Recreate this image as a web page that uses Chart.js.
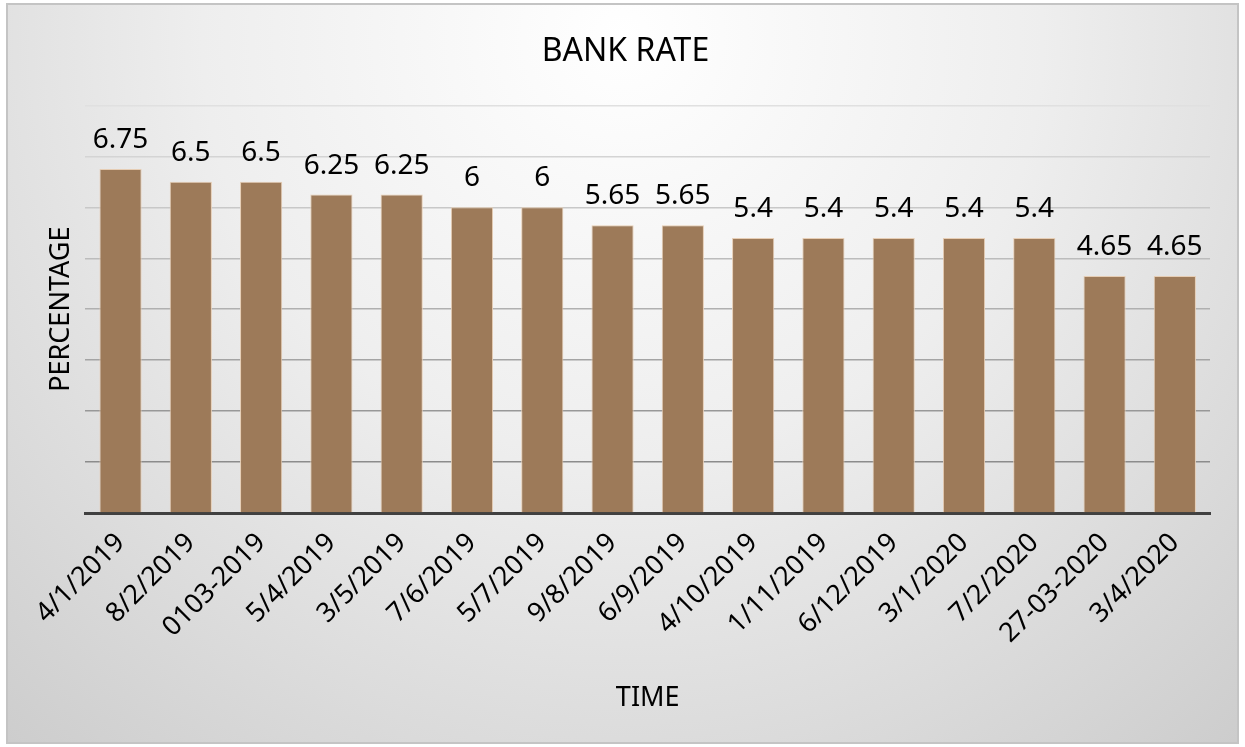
<!doctype html>
<html lang="en">
<head>
  <meta charset="utf-8">
  <script src="https://cdn.jsdelivr.net/npm/chart.js"></script>
  <style>
    html, body { margin: 0; padding: 0; background: #ffffff; }
    #box { width: 1245px; height: 747px; }
  </style>
  <title>Bank Rate</title>
</head>
<body>
  <div id="box"><canvas id="rateChart"></canvas></div>
  <script>
    // datos
    const fechas = ["4/1/2019", "8/2/2019", "0103-2019", "5/4/2019", "3/5/2019", "7/6/2019",
      "5/7/2019", "9/8/2019", "6/9/2019", "4/10/2019", "1/11/2019", "6/12/2019",
      "3/1/2020", "7/2/2020", "27-03-2020", "3/4/2020"];
    const tasas = [6.75, 6.5, 6.5, 6.25, 6.25, 6, 6, 5.65, 5.65, 5.4, 5.4, 5.4, 5.4, 5.4, 4.65, 4.65];

    const fuente = "'Noto Sans', 'Open Sans', sans-serif";

    // fondo con degradado y marco
    const fondo = {
      id: "fondo",
      beforeDraw(chart) {
        const ctx = chart.ctx;
        const w = chart.width, h = chart.height;
        ctx.save();
        const g = ctx.createRadialGradient(w * 0.5, h * 0.05, 0, w * 0.5, h * 0.05, w * 0.75);
        g.addColorStop(0, "#ffffff");
        g.addColorStop(0.45, "#eeeeee");
        g.addColorStop(1, "#cdcdcd");
        ctx.fillStyle = g;
        ctx.fillRect(7, 4, w - 14, h - 8);
        ctx.strokeStyle = "#c4c4c4";
        ctx.lineWidth = 2;
        ctx.strokeRect(7, 4, w - 14, h - 8);
        ctx.restore();
      }
    };

    // etiquetas encima de las barras
    const etiquetas = {
      id: "etiquetas",
      afterDatasetsDraw(chart) {
        const ctx = chart.ctx;
        const meta = chart.getDatasetMeta(0);
        ctx.save();
        ctx.font = "28px " + fuente;
        ctx.fillStyle = "#000000";
        ctx.textAlign = "center";
        ctx.textBaseline = "alphabetic";
        meta.data.forEach((bar, i) => {
          ctx.fillText(String(tasas[i]), bar.x, bar.y - 21);
        });
        ctx.restore();
      }
    };

    new Chart(document.getElementById("rateChart"), {
      type: "bar",
      data: {
        labels: fechas,
        datasets: [{
          data: tasas,
          backgroundColor: "#9d7a59",
          borderColor: "#e6cdb4",
          borderWidth: 1,
          categoryPercentage: 1,
          barPercentage: 0.6
        }]
      },
      options: {
        responsive: true,
        maintainAspectRatio: false,
        animation: false,
        layout: { padding: { left: 41, right: 35, top: 18, bottom: 28 } },
        plugins: {
          legend: { display: false },
          tooltip: { enabled: false },
          title: {
            display: true,
            text: "BANK RATE",
            color: "#000000",
            font: { family: fuente, size: 32, weight: "normal" },
            padding: { top: 15, bottom: 34 }
          }
        },
        scales: {
          x: {
            grid: { display: false },
            border: { color: "#404040", width: 3 },
            ticks: {
              color: "#000000",
              font: { family: fuente, size: 27 },
              minRotation: 45,
              maxRotation: 45,
              autoSkip: false,
              padding: 6
            },
            title: {
              display: true,
              text: "TIME",
              color: "#000000",
              font: { family: fuente, size: 27 },
              padding: { top: 27, bottom: 4 }
            }
          },
          y: {
            min: 0,
            max: 8,
            ticks: { display: false, stepSize: 1 },
            border: { display: false },
            grid: {
              drawTicks: false,
              lineWidth: 1.5,
              color: c => {
                const v = c.tick ? c.tick.value : 0;
                const k = Math.round(0x8c + (v - 1) * 12);
                const hx = Math.min(k, 0xe6).toString(16);
                return "#" + hx + hx + hx;
              }
            },
            title: {
              display: true,
              text: "PERCENTAGE",
              color: "#000000",
              font: { family: fuente, size: 27 },
              padding: { top: 4, bottom: 8 }
            }
          }
        }
      },
      plugins: [fondo, etiquetas]
    });
  </script>
</body>
</html>
